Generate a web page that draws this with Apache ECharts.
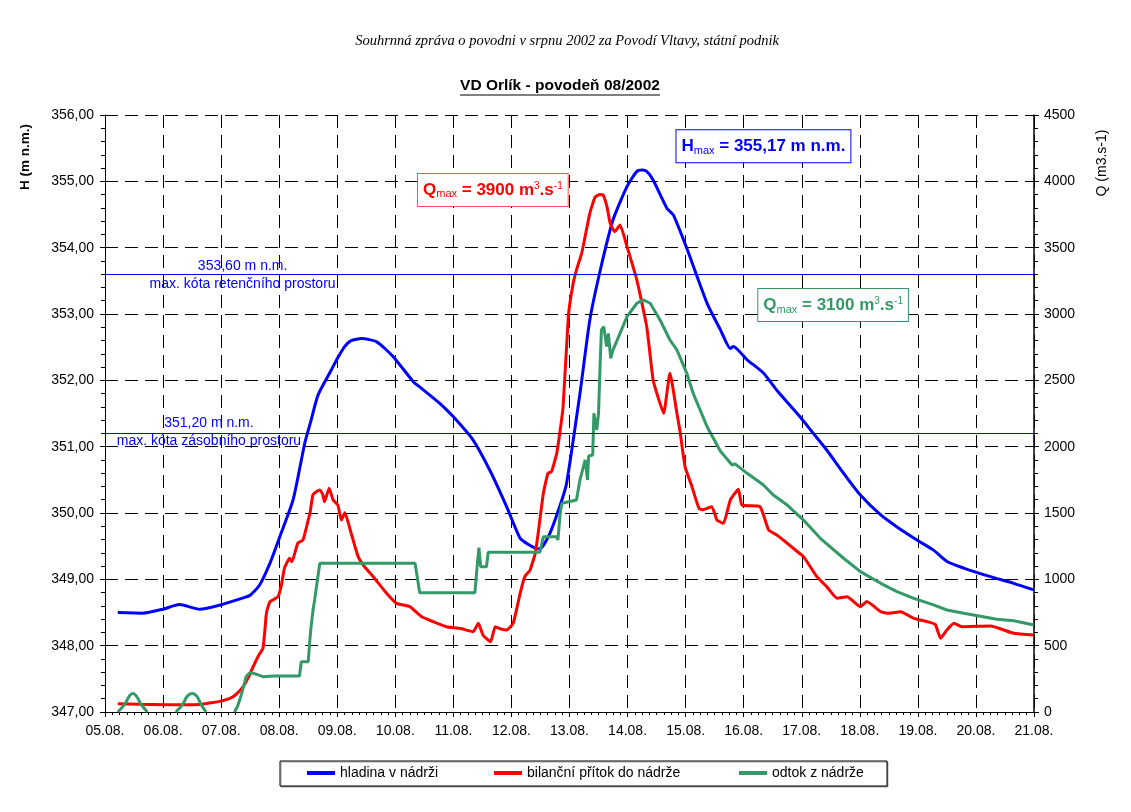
<!DOCTYPE html>
<html><head><meta charset="utf-8">
<script src="https://cdn.jsdelivr.net/npm/echarts@6/dist/echarts.min.js"></script>
<style>html,body{margin:0;padding:0;background:#fff}#c{width:1131px;height:812px}</style>
</head><body><div id="c"></div>
<script>
// ---- tick labels ----
const xTickLabels = ['05.08.','06.08.','07.08.','08.08.','09.08.','10.08.','11.08.','12.08.','13.08.','14.08.','15.08.','16.08.','17.08.','18.08.','19.08.','20.08.','21.08.'];
const hTickLabels = ['347,00','348,00','349,00','350,00','351,00','352,00','353,00','354,00','355,00','356,00'];
const qTickLabels = ['0','500','1000','1500','2000','2500','3000','3500','4000','4500'];

// ---- series: [day since 05.08. 00:00, value] ----
const hladina = [[0.22,348.50],[0.65,348.49],[1.0,348.55],[1.28,348.62],[1.63,348.55],[1.97,348.61],[2.38,348.72],[2.50,348.76],[2.66,348.91],[2.84,349.24],[3.01,349.64],[3.24,350.20],[3.44,351.05],[3.55,351.40],[3.67,351.78],[3.90,352.16],[3.99,352.31],[4.12,352.50],[4.24,352.60],[4.42,352.63],[4.68,352.58],[4.96,352.36],[5.31,351.98],[5.45,351.88],[5.77,351.65],[6.00,351.45],[6.34,351.10],[6.63,350.64],[6.92,350.09],[7.15,349.62],[7.30,349.52],[7.41,349.47],[7.49,349.46],[7.66,349.69],[7.84,350.12],[7.95,350.45],[8.18,351.80],[8.35,352.91],[8.53,353.66],[8.75,354.42],[8.99,354.92],[9.16,355.15],[9.25,355.17],[9.33,355.15],[9.44,355.02],[9.68,354.59],[9.79,354.49],[10.02,353.99],[10.37,353.16],[10.60,352.76],[10.77,352.48],[10.82,352.51],[11.06,352.31],[11.34,352.11],[11.57,351.85],[11.97,351.45],[12.20,351.20],[12.43,350.95],[12.72,350.60],[13.01,350.27],[13.36,349.97],[13.64,349.79],[13.99,349.59],[14.27,349.44],[14.50,349.27],[14.79,349.17],[15.25,349.04],[15.65,348.94],[16.0,348.84]];

const pritok = [[0.22,62],[0.6,58],[1.05,55],[1.63,57],[1.86,72],[1.97,80],[2.15,103],[2.25,130],[2.38,191],[2.48,270],[2.55,341],[2.65,430],[2.72,480],[2.75,600],[2.78,744],[2.84,830],[2.98,869],[3.04,960],[3.09,1083],[3.18,1159],[3.22,1133],[3.32,1272],[3.41,1297],[3.50,1447],[3.53,1498],[3.58,1636],[3.64,1660],[3.70,1673],[3.75,1640],[3.78,1585],[3.86,1686],[3.93,1598],[4.01,1560],[4.07,1447],[4.13,1502],[4.24,1347],[4.36,1171],[4.47,1095],[4.62,1020],[4.85,895],[5.02,819],[5.25,794],[5.45,719],[5.65,681],[5.88,643],[6.11,631],[6.34,605],[6.43,669],[6.51,580],[6.64,530],[6.72,643],[6.80,628],[6.92,618],[7.03,669],[7.15,895],[7.23,1020],[7.32,1070],[7.41,1196],[7.46,1347],[7.55,1649],[7.63,1799],[7.69,1811],[7.78,1950],[7.84,2126],[7.89,2301],[7.98,2980],[8.05,3200],[8.12,3332],[8.21,3458],[8.35,3759],[8.44,3880],[8.52,3900],[8.58,3897],[8.65,3800],[8.70,3684],[8.78,3621],[8.87,3671],[8.99,3508],[9.16,3256],[9.33,2904],[9.44,2503],[9.52,2380],[9.62,2251],[9.73,2553],[9.85,2251],[9.90,2126],[9.99,1849],[10.10,1711],[10.23,1535],[10.30,1525],[10.45,1548],[10.54,1447],[10.65,1422],[10.77,1598],[10.91,1679],[10.97,1560],[11.28,1548],[11.43,1372],[11.57,1334],[11.75,1272],[11.89,1221],[12.03,1171],[12.26,1020],[12.43,945],[12.61,857],[12.78,869],[13.01,794],[13.12,832],[13.36,756],[13.50,744],[13.70,756],[13.93,706],[14.16,681],[14.30,660],[14.39,556],[14.50,618],[14.62,669],[14.76,643],[15.25,648],[15.65,593],[16.0,580]];

const odtok = [[2.23,0],[2.28,40],[2.32,90],[2.38,180],[2.43,266],[2.48,290],[2.52,296],[2.60,285],[2.72,266],[2.89,271],[3.35,271],[3.38,379],[3.50,379],[3.54,605],[3.58,760],[3.61,844],[3.66,1000],[3.70,1121],[5.34,1121],[5.42,899],[6.37,899],[6.41,1100],[6.44,1239],[6.47,1095],[6.57,1095],[6.60,1204],[7.49,1204],[7.55,1321],[7.78,1321],[7.80,1296],[7.84,1500],[7.87,1573],[8.12,1598],[8.18,1749],[8.27,1900],[8.31,1749],[8.33,1930],[8.40,1937],[8.42,2251],[8.47,2126],[8.50,2251],[8.53,2653],[8.55,2880],[8.59,2904],[8.64,2754],[8.67,2854],[8.71,2666],[8.75,2729],[8.87,2854],[8.99,2980],[9.16,3081],[9.27,3106],[9.39,3081],[9.56,2955],[9.73,2804],[9.85,2729],[10.02,2553],[10.13,2402],[10.37,2150],[10.60,1965],[10.80,1862],[10.85,1870],[11.06,1799],[11.34,1711],[11.51,1636],[11.75,1560],[12.03,1447],[12.32,1309],[12.72,1159],[13.01,1058],[13.36,970],[13.64,907],[13.93,857],[14.27,807],[14.50,769],[14.79,744],[15.36,699],[15.65,688],[16.0,656]];

const odtokVlny = [[0.22,0],[0.34,60],[0.42,120],[0.48,140],[0.54,120],[0.62,60],[0.73,0],[0.74,null],[1.21,null],[1.22,0],[1.34,60],[1.42,120],[1.50,140],[1.58,120],[1.65,60],[1.74,0]];

const kotaRetencni = 353.60;
const kotaZasobni = 351.20;
const hMax = '355,17';
const qMaxPritok = '3900';
const qMaxOdtok = '3100';

const FONT = '"Liberation Sans", Arial, sans-serif';
const BLUE = '#0000ff', RED = '#ff0000', GREEN = '#339966';
const chart = echarts.init(document.getElementById('c'), null, {renderer: 'canvas'});

function boxRich(color) {
  return {
    b: {fontSize: 17, fontWeight: 'bold', color: color, fontFamily: FONT, lineHeight: 24, verticalAlign: 'middle'},
    sub: {fontSize: 11, color: color, fontFamily: FONT, lineHeight: 24, verticalAlign: 'bottom', padding: [0, 0, 2, 0]},
    sup: {fontSize: 10, color: color, fontFamily: FONT, lineHeight: 24, verticalAlign: 'top', padding: [3, 0, 0, 0]}
  };
}
function boxLabel(color, borderColor, text) {
  return {show: true, position: 'inside', formatter: text, backgroundColor: '#fff', borderColor: borderColor, borderWidth: 1, padding: [4, 5, 4, 5], rich: boxRich(color)};
}
const refLabelStyle = {show: true, position: 'inside', color: BLUE, fontSize: 14, fontFamily: FONT, lineHeight: 18, align: 'center'};

const titleText = 'VD Orlík - povodeň 08/2002';
const titleFont = 'bold 15.5px "Liberation Sans"';
const cv = document.createElement('canvas').getContext('2d');
cv.font = titleFont;
const tw = cv.measureText(titleText).width;
const titleCx = 560;

const legendCommon = {orient: 'horizontal', top: 766, padding: 0, itemGap: 0, icon: 'rect', itemWidth: 28, itemHeight: 4, selectedMode: false, textStyle: {fontSize: 14, color: '#000', fontFamily: FONT}};

chart.setOption({
  animation: false,
  backgroundColor: '#fff',
  grid: {left: 105, right: 97, top: 115, bottom: 100, containLabel: false},
  graphic: [
    {type: 'text', x: 567, y: 41, style: {text: 'Souhrnná zpráva o povodni v srpnu 2002 za Povodí Vltavy, státní podnik', font: 'italic 14.5px "Liberation Serif"', fill: '#000', textAlign: 'center', textVerticalAlign: 'middle'}},
    {type: 'text', x: titleCx, y: 86, style: {text: titleText, font: titleFont, fill: '#000', textAlign: 'center', textVerticalAlign: 'middle'}},
    {type: 'line', shape: {x1: titleCx - tw / 2, y1: 95, x2: titleCx + tw / 2, y2: 95}, style: {stroke: '#000', lineWidth: 1.2}},
    {type: 'text', x: 25, y: 157, rotation: Math.PI / 2, style: {text: 'H (m n.m.)', font: 'bold 13.5px "Liberation Sans"', fill: '#000', textAlign: 'center', textVerticalAlign: 'middle'}},
    {type: 'text', x: 1102, y: 163, rotation: Math.PI / 2, style: {text: 'Q (m3.s-1)', font: '14px "Liberation Sans"', fill: '#000', textAlign: 'center', textVerticalAlign: 'middle'}},
    {type: 'rect', shape: {x: 280, y: 761, width: 607, height: 25}, style: {fill: '#fff', stroke: '#000', lineWidth: 1, shadowColor: 'rgba(0,0,0,0.35)', shadowOffsetX: 1, shadowOffsetY: 1, shadowBlur: 0}, z: -1}
  ],
  legend: [
    Object.assign({left: 307, data: ['hladina v nádrži']}, legendCommon),
    Object.assign({left: 494, data: ['bilanční přítok do nádrže']}, legendCommon),
    Object.assign({left: 739, data: ['odtok z nádrže']}, legendCommon)
  ],
  xAxis: {
    type: 'value', min: 0, max: 16, interval: 1,
    axisLine: {show: true, onZero: false, lineStyle: {color: '#000', width: 1}},
    axisTick: {show: true, length: 5, lineStyle: {color: '#000'}},
    minorTick: {show: true, splitNumber: 8, length: 3, lineStyle: {color: '#000'}},
    axisLabel: {margin: 12, fontSize: 14, color: '#000', fontFamily: FONT, formatter: v => xTickLabels[Math.round(v)], showMinLabel: true, showMaxLabel: true},
    splitLine: {show: true, lineStyle: {color: '#000', width: 1, type: [13, 7]}}
  },
  yAxis: [
    {
      type: 'value', min: 347, max: 356, interval: 1, position: 'left',
      axisLine: {show: true, lineStyle: {color: '#000', width: 1}},
      axisTick: {show: true, length: 5, lineStyle: {color: '#000'}},
      minorTick: {show: true, splitNumber: 5, length: 4, lineStyle: {color: '#000'}},
      axisLabel: {margin: 11, fontSize: 14, color: '#000', fontFamily: FONT, formatter: v => hTickLabels[Math.round(v - 347)]},
      splitLine: {show: true, lineStyle: {color: '#000', width: 1, type: [13, 7]}}
    },
    {
      type: 'value', min: 0, max: 4500, interval: 500, position: 'right',
      axisLine: {show: true, lineStyle: {color: '#000', width: 1.5}},
      axisTick: {show: true, length: 5, lineStyle: {color: '#000'}},
      minorTick: {show: true, splitNumber: 5, length: 4, lineStyle: {color: '#000'}},
      axisLabel: {margin: 10, fontSize: 14, color: '#000', fontFamily: FONT, formatter: v => qTickLabels[Math.round(v / 500)]},
      splitLine: {show: false}
    },
    {
      type: 'value', min: 0, max: 4500, interval: 500, position: 'right',
      axisLine: {show: false},
      axisTick: {show: true, inside: true, length: 5, lineStyle: {color: '#000'}},
      axisLabel: {show: false},
      splitLine: {show: false}
    }
  ],
  series: [
    {
      name: 'hladina v nádrži', type: 'line', yAxisIndex: 0, data: hladina,
      showSymbol: false, smooth: 0.2,
      itemStyle: {color: BLUE}, lineStyle: {color: BLUE, width: 3},
      markLine: {silent: true, symbol: 'none', label: {show: false}, lineStyle: {color: BLUE, width: 1, type: 'solid'},
        data: [{yAxis: kotaRetencni}, {yAxis: kotaZasobni}]},
      markPoint: {silent: true, symbol: 'circle', symbolSize: 0,
        data: [
          {coord: [2.37, kotaRetencni], label: Object.assign({}, refLabelStyle, {formatter: '353,60 m n.m.\nmax. kóta retenčního prostoru', offset: [0, 1]})},
          {coord: [1.79, kotaZasobni], label: Object.assign({}, refLabelStyle, {formatter: '351,20 m n.m.\nmax. kóta zásobního prostoru', offset: [0, -1]})},
          {coord: [11.34, 355.53], label: boxLabel(BLUE, BLUE, '{b|H}{sub|max}{b| = ' + hMax + ' m n.m.}')}
        ]}
    },
    {
      name: 'bilanční přítok do nádrže', type: 'line', yAxisIndex: 1, data: pritok,
      showSymbol: false, smooth: 0.15,
      itemStyle: {color: RED}, lineStyle: {color: RED, width: 3},
      markPoint: {silent: true, symbol: 'circle', symbolSize: 0,
        data: [{coord: [6.68, 3935], label: boxLabel(RED, '#ff5050', '{b|Q}{sub|max}{b| = ' + qMaxPritok + ' m}{sup|3}{b|.s}{sup|-1}')}]}
    },
    {
      name: 'odtok z nádrže', type: 'line', yAxisIndex: 1, data: odtok,
      showSymbol: false, smooth: false,
      itemStyle: {color: GREEN}, lineStyle: {color: GREEN, width: 3},
      markPoint: {silent: true, symbol: 'circle', symbolSize: 0,
        data: [{coord: [12.54, 3068], label: boxLabel(GREEN, GREEN, '{b|Q}{sub|max}{b| = ' + qMaxOdtok + ' m}{sup|3}{b|.s}{sup|-1}')}]}
    },
    {
      name: 'odtok z nádrže', type: 'line', yAxisIndex: 1, data: odtokVlny,
      showSymbol: false, smooth: 0.5, connectNulls: false,
      itemStyle: {color: GREEN}, lineStyle: {color: GREEN, width: 3}
    }
  ]
});
</script></body></html>
